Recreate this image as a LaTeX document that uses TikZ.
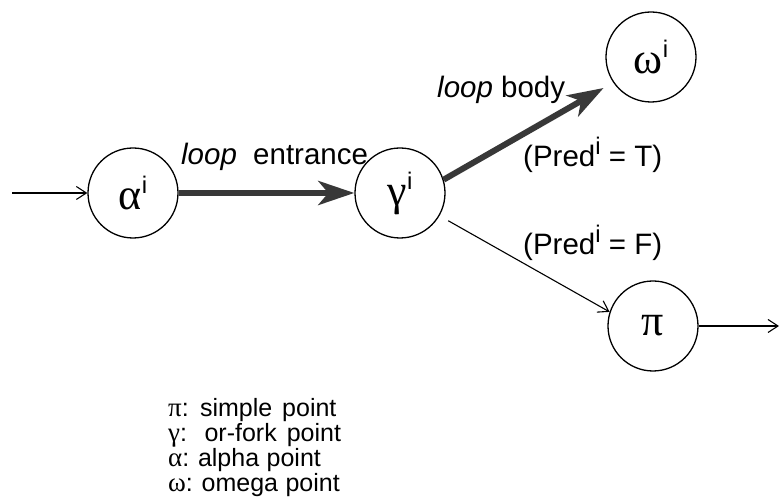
\documentclass[tikz,border=0pt]{standalone}
\usepackage{fontspec}
\setmainfont{Liberation Sans}
\newfontfamily\grkfont{Liberation Serif}
\usetikzlibrary{arrows.meta}
% Greek point name with a sans superscript index
\newcommand\ptname[2]{{\grkfont\fontsize{44}{44}\selectfont #1}\raisebox{16pt}{\fontsize{24}{24}\selectfont #2}}
\newcommand\supi{\raisebox{12pt}{\fontsize{24}{24}\selectfont i}}
\newcommand\lgk[1]{{\grkfont\fontsize{27}{25}\selectfont #1}}
\begin{document}
\begin{tikzpicture}[x=1pt,y=1pt,
  pnode/.style={circle,draw,line width=1.3pt,minimum size=90pt,inner sep=0pt},
  flow/.style={line width=1.1pt,-{Straight Barb[length=10pt,width=13pt]}},
  heavy/.style={line width=6pt,draw=black!78,-{Stealth[length=36pt,width=24pt,inset=10pt]}},
  lbl/.style={font=\fontsize{29.5}{32}\selectfont,inner sep=0pt,anchor=base west},
  legend/.style={font=\fontsize{25}{25}\selectfont,inner sep=0pt,align=left},
]
\useasboundingbox (0,0) rectangle (780,502);

% points of the loop
\node[pnode] (alpha) at (133,309) {\ptname{α}{i}};
\node[pnode] (gamma) at (400,309) {\ptname{γ}{i}};
\node[pnode] (omega) at (651,445) {\ptname{ω}{i}};
\node[pnode] (pi)    at (653,176) {{\grkfont\fontsize{44}{44}\selectfont π}};

% free ends of the flow
\coordinate (in)  at (12,309);
\coordinate (out) at (779,176);

% connectors
\draw[flow] (in) -- (alpha);
\draw[heavy] (alpha) -- (gamma);
\draw[heavy,shorten >=11pt] (gamma.17) -- (omega.214);
\draw[flow,shorten <=10pt] (gamma.-30) -- (pi.162);
\draw[flow] (pi) -- (out);

% edge labels
\node[lbl] (lentr) at (181,337) {\textit{loop}\hspace{0.55em}entrance};
\node[lbl] (lbody) at (437,404) {\textit{loop} body};
\node[lbl] (predT) at (523,335) {(Pred\supi\ = T)};
\node[lbl] (predF) at (523,247) {(Pred\supi\ = F)};

% legend
\node[legend,anchor=south west] (legend) at (168,5) {%
  \lgk{π}:\hspace{0.45em}simple\hspace{0.4em}point\\
  \lgk{γ}:\hspace{0.7em}or-fork\hspace{0.4em}point\\
  \lgk{α}:\hspace{0.35em}alpha\hspace{0.3em}point\\
  \lgk{ω}:\hspace{0.35em}omega\hspace{0.3em}point};
\end{tikzpicture}
\end{document}
